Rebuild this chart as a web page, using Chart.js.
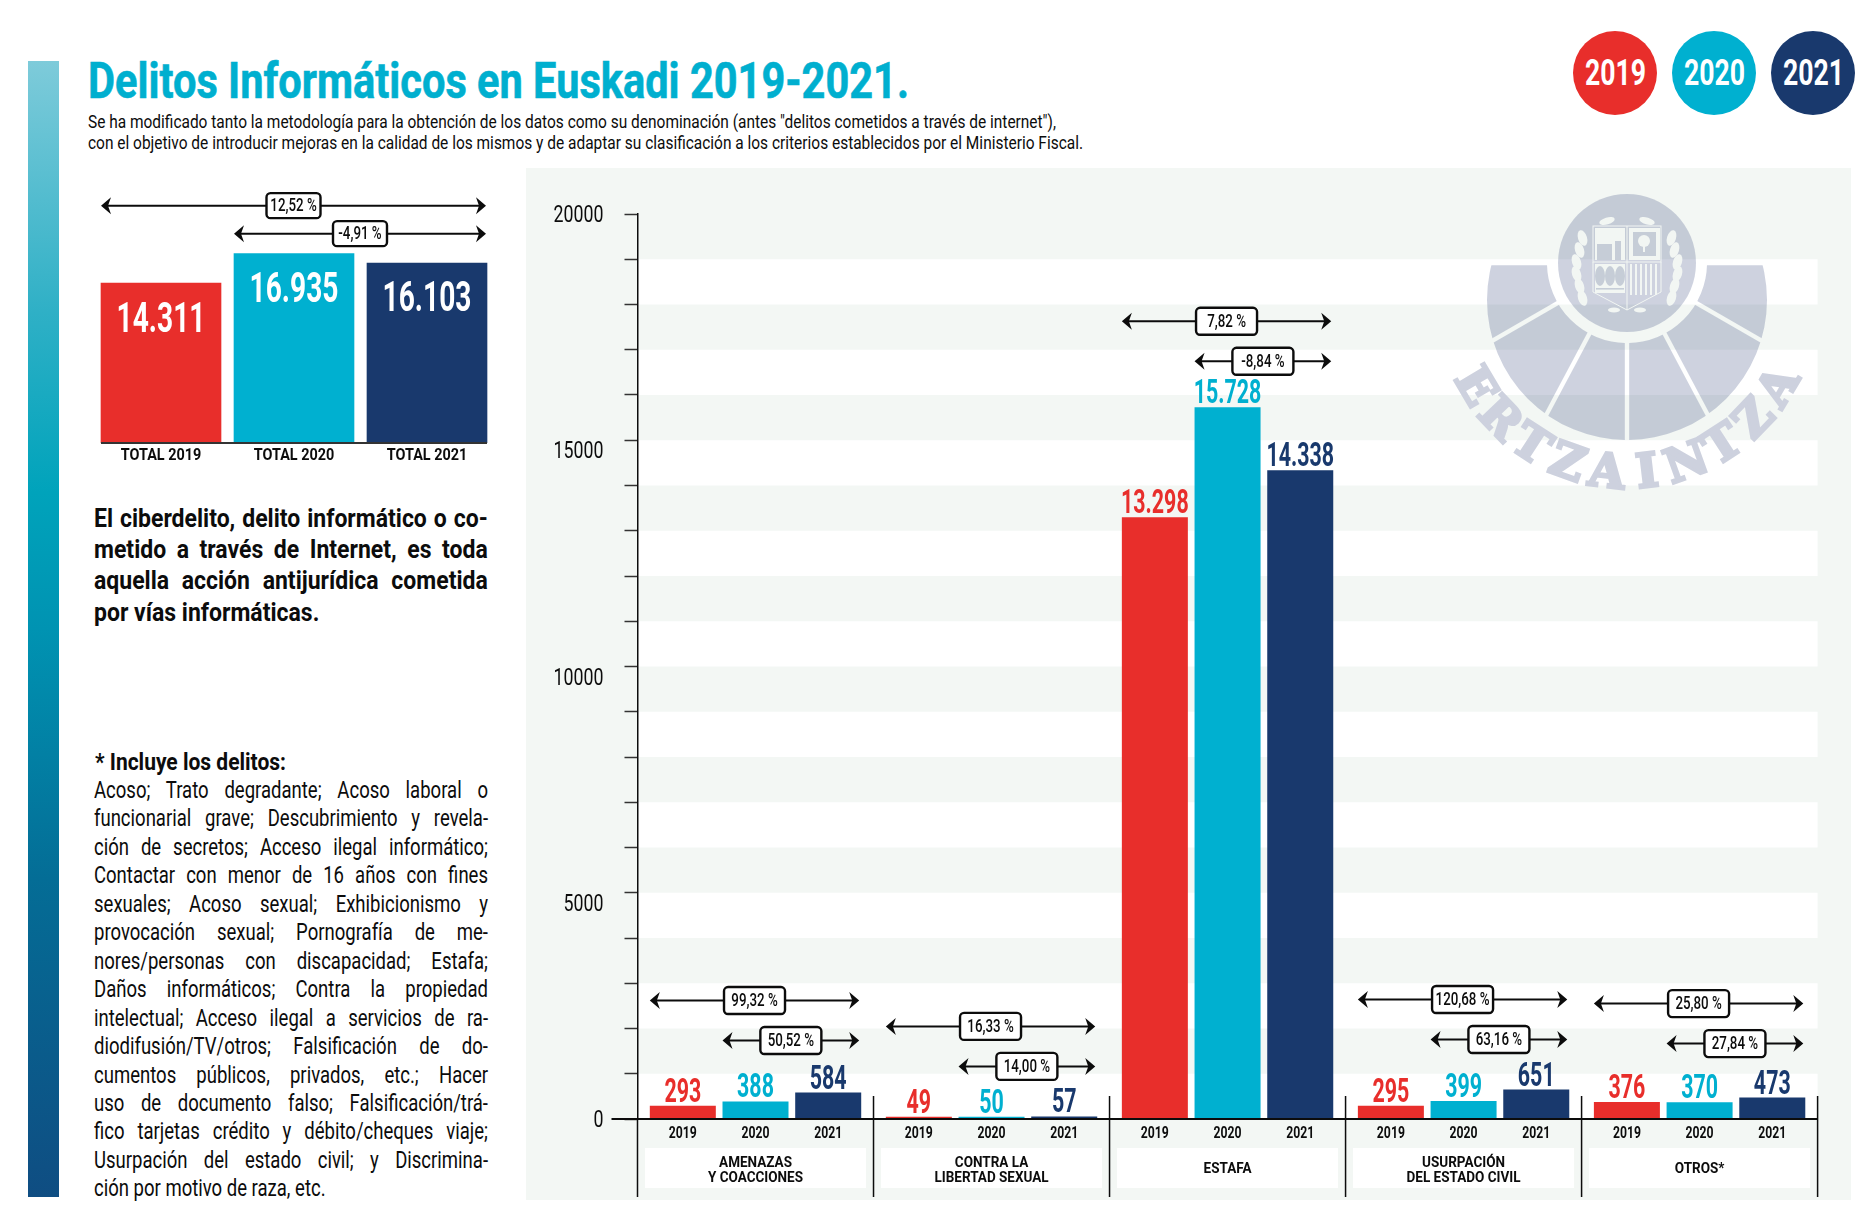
<!DOCTYPE html>
<html lang="es">
<head>
<meta charset="utf-8">
<title>Delitos Informáticos en Euskadi 2019-2021</title>
<script src="https://cdn.jsdelivr.net/npm/chart.js@4/dist/chart.umd.min.js"></script>
<style>
  html, body { margin: 0; background: #fff; }
  body { position: relative; width: 1865px; height: 1230px; overflow: hidden; color: #0c0c0c;
         font-family: "Roboto", sans-serif; }
  canvas, .abs { position: absolute; }
  #barra { left: 28px; top: 61px; width: 31px; height: 1136px;
           background: linear-gradient(#7ecbda 0%, #2fb0c6 22%, #00a3bb 38%, #0093b2 50%, #046d96 72%, #0f4d82 100%); }
  #titulo { left: 88px; top: 51px; font-size: 50px; line-height: 60px; font-weight: bold; color: #00afcf;
            white-space: nowrap; transform-origin: left; -webkit-text-stroke: .6px #00afcf; }
  .sub { left: 88px; font-size: 18px; line-height: 22px; white-space: nowrap; transform-origin: left; }
  .bloque { left: 94px; transform-origin: left top; }
  .bloque div { text-align: justify; text-align-last: justify; }
  .bloque div.fin { text-align-last: left; }
  #intro { top: 503px; width: 428px; transform: scaleX(.92); font-size: 25px; line-height: 31.2px; font-weight: bold; }
  #incluye { left: 95px; top: 748px; font-size: 24px; line-height: 28px; font-weight: bold; white-space: nowrap;
             transform: scaleX(.875); transform-origin: left; }
  #delitos { top: 776px; width: 500px; transform: scaleX(.788); font-size: 23.5px; line-height: 28.45px; }
  .circulo { top: 31px; width: 84px; height: 84px; border-radius: 50%; color: #fff; font-size: 37px; font-weight: bold;
             line-height: 84px; text-align: center; }
  .circulo span { display: inline-block; transform: scaleX(.72); }
</style>
</head>
<body>
<div id="barra" class="abs"></div>
<div id="titulo" class="abs" data-ancho="821">Delitos Informáticos en Euskadi 2019-2021.</div>
<div class="abs sub" style="top:111px" data-ancho="968">Se ha modificado tanto la metodología para la obtención de los datos como su denominación (antes "delitos cometidos a través de internet"),</div>
<div class="abs sub" style="top:132px" data-ancho="995">con el objetivo de introducir mejoras en la calidad de los mismos y de adaptar su clasificación a los criterios establecidos por el Ministerio Fiscal.</div>

<div id="intro" class="abs bloque">
  <div>El ciberdelito, delito informático o co-</div>
  <div>metido a través de Internet, es toda</div>
  <div>aquella acción antijurídica cometida</div>
  <div class="fin">por vías informáticas.</div>
</div>
<div id="incluye" class="abs">* Incluye los delitos:</div>
<div id="delitos" class="abs bloque">
  <div>Acoso; Trato degradante; Acoso laboral o</div>
  <div>funcionarial grave; Descubrimiento y revela-</div>
  <div>ción de secretos; Acceso ilegal informático;</div>
  <div>Contactar con menor de 16 años con fines</div>
  <div>sexuales; Acoso sexual; Exhibicionismo y</div>
  <div>provocación sexual; Pornografía de me-</div>
  <div>nores/personas con discapacidad; Estafa;</div>
  <div>Daños informáticos; Contra la propiedad</div>
  <div>intelectual; Acceso ilegal a servicios de ra-</div>
  <div>diodifusión/TV/otros; Falsificación de do-</div>
  <div>cumentos públicos, privados, etc.; Hacer</div>
  <div>uso de documento falso; Falsificación/trá-</div>
  <div>fico tarjetas crédito y débito/cheques viaje;</div>
  <div>Usurpación del estado civil; y Discrimina-</div>
  <div class="fin">ción por motivo de raza, etc.</div>
</div>

<canvas id="totales" width="412" height="280" style="left:88px;top:190px"></canvas>
<canvas id="grafico" width="1325" height="1032" style="left:526px;top:168px"></canvas>

<script>
// Datos
const anios = ['2019', '2020', '2021'];
const categorias = [['AMENAZAS', 'Y COACCIONES'], ['CONTRA LA', 'LIBERTAD SEXUAL'], ['', 'ESTAFA'], ['USURPACIÓN', 'DEL ESTADO CIVIL'], ['', 'OTROS*']];
const valores2019 = [293, 49, 13298, 295, 376];
const valores2020 = [388, 50, 15728, 399, 370];
const valores2021 = [584, 57, 14338, 651, 473];
const variacionDesde2019 = ['99,32 %', '16,33 %', '7,82 %', '120,68 %', '25,80 %'];
const variacionDesde2020 = ['50,52 %', '14,00 %', '-8,84 %', '63,16 %', '27,84 %'];
const etiquetasTotales = ['TOTAL 2019', 'TOTAL 2020', 'TOTAL 2021'];
const totales = [14311, 16935, 16103];
const variacionTotal = ['12,52 %', '-4,91 %'];
const marcasEje = [0, 5000, 10000, 15000, 20000];

const colores = ['#e82e2b', '#00b0d0', '#19396d'];
const fuente = '"Roboto", sans-serif';
// Altura de la flecha inferior sobre la barra más alta de cada grupo
const alturaFlecha = [52, 50, 46, 50, 54];

const miles = n => String(n).replace(/\B(?=(\d{3})+$)/g, '.');

// No hay fuente condensada instalada: se estrecha el texto al pintarlo en el canvas.
// ctx.estrecho permite forzar otro factor para las cifras grandes.
function estrechar(canvas) {
    const ctx = canvas.getContext('2d');
    const original = ctx.fillText.bind(ctx);
    ctx.fillText = (t, x, y) => {
        const k = ctx.estrecho || (/[A-Z]/.test(t) ? 0.9 : 0.74);
        ctx.save();
        ctx.translate(x, y);
        ctx.scale(k, 1);
        original(t, 0, 0);
        ctx.restore();
    };
    ctx.textoNormal = original;
    return canvas;
}

// Círculos de la leyenda
anios.forEach((a, i) => {
    const c = document.createElement('div');
    c.className = 'abs circulo';
    c.style.left = (1573 + i * 99) + 'px';
    c.style.background = colores[i];
    const s = document.createElement('span');
    s.textContent = a;
    c.appendChild(s);
    document.body.appendChild(c);
});

// Ajusta el ancho de los textos de cabecera
document.querySelectorAll('[data-ancho]').forEach(el => {
    el.style.transform = 'scaleX(' + (el.dataset.ancho / el.getBoundingClientRect().width) + ')';
});

function flecha(ctx, x1, x2, y, texto, anchoCaja, altoCaja, cx) {
    ctx.save();
    ctx.strokeStyle = '#0c0c0c';
    ctx.fillStyle = '#0c0c0c';
    ctx.lineWidth = 2;
    ctx.beginPath();
    ctx.moveTo(x1 + 3, y);
    ctx.lineTo(x2 - 3, y);
    ctx.stroke();
    [[x1, 1], [x2, -1]].forEach(([x, d]) => {
        ctx.beginPath();
        ctx.moveTo(x, y);
        ctx.lineTo(x + d * 10, y - 8.5);
        ctx.lineTo(x + d * 7, y);
        ctx.lineTo(x + d * 10, y + 8.5);
        ctx.closePath();
        ctx.fill();
    });
    ctx.fillStyle = '#fff';
    ctx.lineWidth = 2.4;
    ctx.beginPath();
    ctx.roundRect(cx - anchoCaja / 2, y - altoCaja / 2, anchoCaja, altoCaja, 4);
    ctx.fill();
    ctx.stroke();
    ctx.fillStyle = '#0c0c0c';
    ctx.font = '500 18px ' + fuente;
    ctx.textAlign = 'center';
    ctx.textBaseline = 'middle';
    ctx.fillText(texto, cx, y + 1);
    ctx.restore();
}

// Escudo de fondo
function dibujarEmblema(ctx) {
    const cx = 1101, cy = 95, tinta = 'rgba(30,50,110,.22)', hueco = '#f2f6f3';
    const radios = [180, 150, 118, 90, 62, 30, 0].map(g => g * Math.PI / 180);
    ctx.save();
    ctx.fillStyle = tinta;
    for (let i = 0; i < radios.length - 1; i++) {
        const a = radios[i], b = radios[i + 1], m = (a + b) / 2;
        const d = 2.2 / Math.sin((a - b) / 2);
        const ax = cx + d * Math.cos(m), ay = cy + d * Math.sin(m);
        ctx.save();
        ctx.beginPath();
        ctx.moveTo(ax, Math.max(ay, cy));
        ctx.lineTo(ax + 400 * Math.cos(a), Math.max(ay + 400 * Math.sin(a), cy));
        ctx.lineTo(ax + 400 * Math.cos(b), Math.max(ay + 400 * Math.sin(b), cy));
        ctx.closePath();
        ctx.clip();
        ctx.beginPath();
        ctx.arc(cx, cy + 37, 140, 0, Math.PI * 2);
        ctx.arc(cx, cy, 80, 0, Math.PI * 2);
        ctx.fill('evenodd');
        ctx.restore();
    }
    ctx.beginPath();
    ctx.arc(cx, cy, 69, 0, Math.PI * 2);
    ctx.fill();

    // Armas: cuatro cuarteles con corona de hojas
    ctx.fillStyle = hueco;
    ctx.strokeStyle = hueco;
    ctx.lineWidth = 1;
    const ox = cx - 34, oy = cy - 37;
    ctx.strokeRect(ox, oy, 68, 36);
    ctx.beginPath();
    ctx.moveTo(ox, oy + 36);
    ctx.lineTo(ox, oy + 66);
    ctx.lineTo(cx, oy + 84);
    ctx.lineTo(ox + 68, oy + 66);
    ctx.lineTo(ox + 68, oy + 36);
    ctx.moveTo(cx, oy);
    ctx.lineTo(cx, oy + 84);
    ctx.stroke();
    ctx.fillRect(ox + 2, oy + 38, 30, 29);
    ctx.fillRect(ox + 2, oy + 2, 30, 32);
    ctx.fillRect(cx + 2, oy + 2, 31, 32);
    for (let x = cx + 3; x < ox + 66; x += 5) ctx.fillRect(x, oy + 38, 2, 31);
    ctx.fillStyle = 'rgb(198,205,215)';
    // castillo y árbol
    ctx.fillRect(ox + 4, oy + 18, 15, 16);
    ctx.fillRect(ox + 22, oy + 15, 6, 19);
    ctx.fillRect(cx + 6, oy + 6, 23, 24);
    ctx.beginPath();
    [7, 17, 27].forEach(x => {
        ctx.moveTo(ox + x + 5, oy + 50);
        ctx.ellipse(ox + x, oy + 50, 5, 10, 0, 0, Math.PI * 2);
    });
    ctx.fill();
    ctx.fillRect(ox + 3, oy + 62, 28, 1.6);
    ctx.fillStyle = hueco;
    ctx.beginPath();
    ctx.arc(cx + 17, oy + 15, 6, 0, Math.PI * 2);
    ctx.fill();
    ctx.fillRect(cx + 16, oy + 19, 2, 7);
    [-1, 1].forEach(s => {
        for (let k = 0; k < 6; k++) {
            ctx.beginPath();
            ctx.ellipse(cx + s * (52 - Math.abs(k - 2.5) * 3), oy + 12 + k * 12, 4.5, 8, s * .3, 0, Math.PI * 2);
            ctx.fill();
        }
        ctx.beginPath();
        ctx.ellipse(cx + s * 20, oy - 5, 8, 3.5, s * .3, 0, Math.PI * 2);
        ctx.ellipse(cx + s * 13, oy + 84, 6, 2.5, 0, 0, Math.PI * 2);
        ctx.fill();
    });

    // Nombre en arco
    ctx.fillStyle = 'rgb(205,209,222)';
    ctx.strokeStyle = 'rgb(205,209,222)';
    ctx.lineWidth = 3;
    ctx.font = 'bold 47px "DejaVu Serif", serif';
    ctx.textAlign = 'center';
    ctx.textBaseline = 'alphabetic';
    'ERTZAINTZA'.split('').forEach((letra, i) => {
        const g = (90 + (4.5 - i) * 13.2) * Math.PI / 180;
        ctx.save();
        ctx.translate(cx + 191 * Math.cos(g), cy + 34 + 191 * Math.sin(g));
        ctx.rotate(g - Math.PI / 2);
        ctx.textoNormal(letra, 0, 0);
        ctx.strokeText(letra, 0, 0);
        ctx.restore();
    });
    ctx.restore();
}

const decoradoPrincipal = {
    id: 'decoradoPrincipal',
    beforeDraw(chart) {
        const { ctx, chartArea: a, scales: { y } } = chart;
        ctx.save();
        ctx.fillStyle = '#f3f7f4';
        ctx.fillRect(0, 0, chart.width, chart.height);
        ctx.fillStyle = '#fff';
        for (let v = 0; v < 20000; v += 2000) {
            ctx.fillRect(a.left, y.getPixelForValue(v + 1000), a.width, y.getPixelForValue(v) - y.getPixelForValue(v + 1000));
        }
        // Cajas blancas de las categorías
        const ancho = a.width / categorias.length;
        categorias.forEach((c, i) => ctx.fillRect(a.left + i * ancho + 7.5, a.bottom + 29, ancho - 15, 40));
        ctx.restore();
        dibujarEmblema(ctx);
    },
    afterDatasetsDraw(chart) {
        const { ctx, chartArea: a } = chart;
        const ancho = a.width / categorias.length;
        ctx.save();
        // Línea base y separadores
        ctx.strokeStyle = '#0c0c0c';
        ctx.lineWidth = 2;
        ctx.beginPath();
        ctx.moveTo(a.left - 26, a.bottom);
        ctx.lineTo(a.right, a.bottom);
        ctx.stroke();
        ctx.lineWidth = 1.5;
        ctx.beginPath();
        ctx.moveTo(a.left, a.bottom);
        ctx.lineTo(a.left, a.bottom + 78);
        for (let i = 1; i <= categorias.length; i++) {
            ctx.moveTo(a.left + i * ancho, a.bottom - 23);
            ctx.lineTo(a.left + i * ancho, a.bottom + 78);
        }
        ctx.stroke();

        // Valores encima de las barras y años debajo
        ctx.textAlign = 'center';
        chart.data.datasets.forEach((ds, d) => {
            chart.getDatasetMeta(d).data.forEach((barra, i) => {
                ctx.fillStyle = colores[d];
                ctx.textBaseline = 'alphabetic';
                ctx.font = 'bold 34px ' + fuente;
                ctx.estrecho = 0.63;
                ctx.fillText(miles(ds.data[i]), barra.x, barra.y - 4);
                ctx.estrecho = 0;
                ctx.fillStyle = '#0c0c0c';
                ctx.textBaseline = 'middle';
                ctx.font = 'bold 16.5px ' + fuente;
                ctx.fillText(anios[d], barra.x, a.bottom + 15);
            });
        });

        // Flechas de variación
        categorias.forEach((c, i) => {
            const b = chart.data.datasets.map((ds, d) => chart.getDatasetMeta(d).data[i]);
            const mitad = b[0].width / 2;
            const cima = Math.min(...b.map(e => e.y));
            const der = b[2].x + mitad - 2;
            const yBaja = cima - alturaFlecha[i];
            const i1 = b[0].x - mitad, i2 = b[1].x - mitad;
            flecha(ctx, i1, der, yBaja - 40, variacionDesde2019[i], 61, 27, (i1 + der) / 2);
            flecha(ctx, i2, der, yBaja, variacionDesde2020[i], 61, 27, (i2 + der) / 2);
        });
        ctx.restore();
    }
};

new Chart(estrechar(document.getElementById('grafico')), {
    type: 'bar',
    data: {
        labels: categorias,
        datasets: [valores2019, valores2020, valores2021].map((v, i) => ({
            label: anios[i],
            data: v,
            backgroundColor: colores[i],
            barPercentage: 0.908,
            categoryPercentage: 0.924
        }))
    },
    plugins: [decoradoPrincipal],
    options: {
        responsive: false,
        animation: false,
        layout: { padding: { top: 46, right: 33.4 } },
        plugins: { legend: { display: false }, tooltip: { enabled: false } },
        scales: {
            x: {
                afterFit: s => { s.height = 81; },
                border: { display: false },
                grid: { display: false },
                ticks: {
                    padding: 29,
                    maxRotation: 0,
                    minRotation: 0,
                    autoSkip: false,
                    color: '#0c0c0c',
                    font: c => ({
                        family: fuente,
                        weight: 'bold',
                        size: 15,
                        lineHeight: categorias[c.index][0] === '' ? '9px' : '15px'
                    })
                }
            },
            y: {
                min: 0,
                max: 20000,
                afterFit: s => { s.width = 111.5; },
                border: { color: '#0c0c0c', width: 1.5 },
                grid: { drawOnChartArea: false, tickLength: 13, tickColor: '#333', tickWidth: 1.5 },
                ticks: {
                    stepSize: 1000,
                    autoSkip: false,
                    padding: 21,
                    color: '#0c0c0c',
                    // Las etiquetas intermedias van algo por debajo de su marca
                    font: c => ({
                        family: fuente,
                        size: 24,
                        lineHeight: c.tick && (c.tick.value === 0 || c.tick.value === 20000) ? '4px' : '24px'
                    }),
                    callback: v => (marcasEje.includes(v) ? ['', String(v)] : '')
                }
            }
        }
    }
});

const decoradoTotales = {
    id: 'decoradoTotales',
    afterDatasetsDraw(chart) {
        const { ctx, chartArea: a } = chart;
        const barras = chart.getDatasetMeta(0).data;
        const mitad = barras[0].width / 2;
        const izq = barras[0].x - mitad, der = barras[2].x + mitad;
        ctx.save();
        ctx.strokeStyle = '#333';
        ctx.lineWidth = 2;
        ctx.beginPath();
        ctx.moveTo(izq, a.bottom);
        ctx.lineTo(der, a.bottom);
        ctx.stroke();
        ctx.fillStyle = '#fff';
        ctx.font = 'bold 42px ' + fuente;
        ctx.textAlign = 'center';
        ctx.textBaseline = 'middle';
        ctx.estrecho = 0.67;
        barras.forEach((b, i) => ctx.fillText(miles(totales[i]), b.x, b.y + 38));
        ctx.estrecho = 0;
        ctx.restore();
        const i2 = barras[1].x - mitad;
        flecha(ctx, izq, der - 1, barras[1].y - 48, variacionTotal[0], 54, 25, (izq + der - 1) / 2);
        flecha(ctx, i2, der - 1, barras[1].y - 20, variacionTotal[1], 54, 25, (i2 + der - 1) / 2);
    }
};

new Chart(estrechar(document.getElementById('totales')), {
    type: 'bar',
    data: {
        labels: etiquetasTotales,
        datasets: [{ data: totales, backgroundColor: colores, barThickness: 120 }]
    },
    plugins: [decoradoTotales],
    options: {
        responsive: false,
        animation: false,
        layout: { padding: { top: 29.4, left: 6.5, right: 6.5 } },
        plugins: { legend: { display: false }, tooltip: { enabled: false } },
        scales: {
            x: {
                afterFit: s => { s.height = 27; },
                border: { display: false },
                grid: { display: false },
                ticks: {
                    padding: -5,
                    maxRotation: 0,
                    color: '#0c0c0c',
                    font: { family: fuente, weight: 'bold', size: 16 }
                }
            },
            y: { display: false, min: 0, max: 20000 }
        }
    }
});
</script>
</body>
</html>
